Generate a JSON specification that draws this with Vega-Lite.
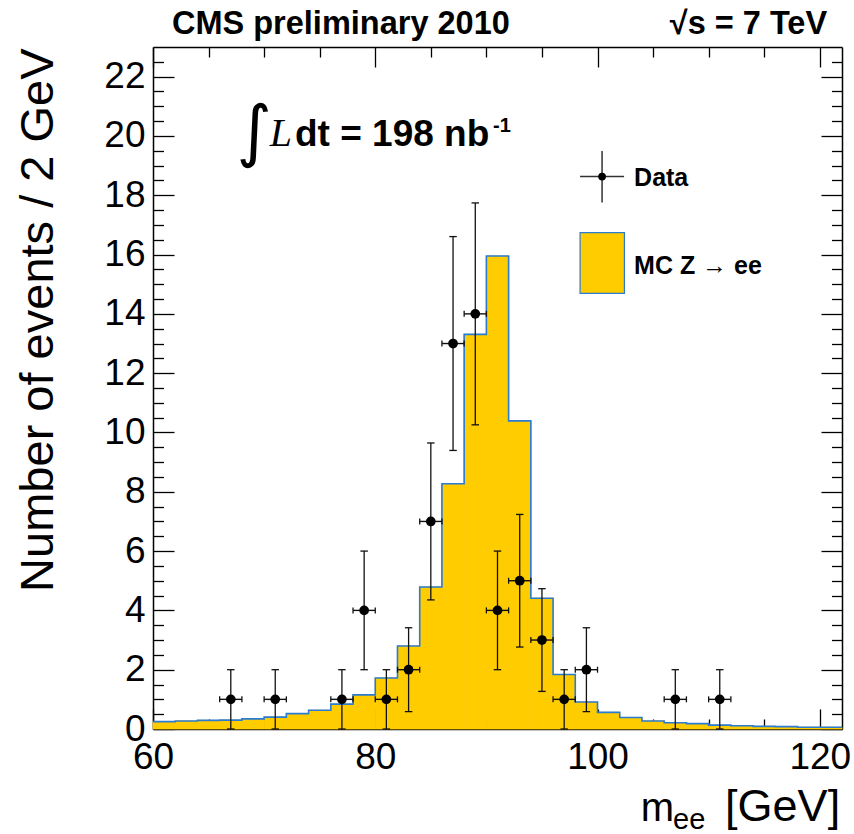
{
  "$schema": "https://vega.github.io/schema/vega-lite/v6.json",
  "width": 689,
  "height": 682,
  "autosize": "none",
  "padding": {"left": 153, "top": 47, "right": 12, "bottom": 105},
  "background": "white",
  "config": {
    "view": {"stroke": null},
    "axis": {"grid": false, "zindex": 1, "domain": false, "labels": false, "ticks": false, "tickColor": "black", "tickWidth": 1.3, "domainColor": "black", "domainWidth": 1.5, "labelFont": "Liberation Sans", "labelFontSize": 37, "labelColor": "black", "labelFlush": false, "labelOverlap": false, "labelBound": false}
  },
  "datasets": {
    "mc": [
      {"lo": 60, "hi": 62, "n": 0.25},
      {"lo": 62, "hi": 64, "n": 0.27},
      {"lo": 64, "hi": 66, "n": 0.29},
      {"lo": 66, "hi": 68, "n": 0.30},
      {"lo": 68, "hi": 70, "n": 0.34},
      {"lo": 70, "hi": 72, "n": 0.40},
      {"lo": 72, "hi": 74, "n": 0.52},
      {"lo": 74, "hi": 76, "n": 0.63},
      {"lo": 76, "hi": 78, "n": 0.84},
      {"lo": 78, "hi": 80, "n": 1.15},
      {"lo": 80, "hi": 82, "n": 1.72},
      {"lo": 82, "hi": 84, "n": 2.80},
      {"lo": 84, "hi": 86, "n": 4.79},
      {"lo": 86, "hi": 88, "n": 8.27},
      {"lo": 88, "hi": 90, "n": 13.31},
      {"lo": 90, "hi": 92, "n": 15.95},
      {"lo": 92, "hi": 94, "n": 10.39},
      {"lo": 94, "hi": 96, "n": 4.41},
      {"lo": 96, "hi": 98, "n": 1.84},
      {"lo": 98, "hi": 100, "n": 0.91},
      {"lo": 100, "hi": 102, "n": 0.56},
      {"lo": 102, "hi": 104, "n": 0.39},
      {"lo": 104, "hi": 106, "n": 0.27},
      {"lo": 106, "hi": 108, "n": 0.21},
      {"lo": 108, "hi": 110, "n": 0.18},
      {"lo": 110, "hi": 112, "n": 0.13},
      {"lo": 112, "hi": 114, "n": 0.11},
      {"lo": 114, "hi": 116, "n": 0.09},
      {"lo": 116, "hi": 118, "n": 0.08},
      {"lo": 118, "hi": 120, "n": 0.06},
      {"lo": 120, "hi": 122, "n": 0.06}
    ],
    "obs": [
      {"m": 67, "n": 1, "lo": 0, "hi": 2, "xlo": 66, "xhi": 68},
      {"m": 71, "n": 1, "lo": 0, "hi": 2, "xlo": 70, "xhi": 72},
      {"m": 77, "n": 1, "lo": 0, "hi": 2, "xlo": 76, "xhi": 78},
      {"m": 79, "n": 4, "lo": 2, "hi": 6, "xlo": 78, "xhi": 80},
      {"m": 81, "n": 1, "lo": 0, "hi": 2, "xlo": 80, "xhi": 82},
      {"m": 83, "n": 2, "lo": 0.586, "hi": 3.414, "xlo": 82, "xhi": 84},
      {"m": 85, "n": 7, "lo": 4.354, "hi": 9.646, "xlo": 84, "xhi": 86},
      {"m": 87, "n": 13, "lo": 9.394, "hi": 16.606, "xlo": 86, "xhi": 88},
      {"m": 89, "n": 14, "lo": 10.258, "hi": 17.742, "xlo": 88, "xhi": 90},
      {"m": 91, "n": 4, "lo": 2, "hi": 6, "xlo": 90, "xhi": 92},
      {"m": 93, "n": 5, "lo": 2.764, "hi": 7.236, "xlo": 92, "xhi": 94},
      {"m": 95, "n": 3, "lo": 1.268, "hi": 4.732, "xlo": 94, "xhi": 96},
      {"m": 97, "n": 1, "lo": 0, "hi": 2, "xlo": 96, "xhi": 98},
      {"m": 99, "n": 2, "lo": 0.586, "hi": 3.414, "xlo": 98, "xhi": 100},
      {"m": 107, "n": 1, "lo": 0, "hi": 2, "xlo": 106, "xhi": 108},
      {"m": 111, "n": 1, "lo": 0, "hi": 2, "xlo": 110, "xhi": 112}
    ]
  },
  "resolve": {"axis": {"x": "independent", "y": "independent"}},
  "layer": [
    {
      "data": {"name": "mc"},
      "mark": {"type": "rect", "fill": "#ffcc00", "stroke": "#ffcc00", "strokeWidth": 0.8},
      "encoding": {
        "x": {"field": "lo", "type": "quantitative", "scale": {"domain": [60, 122], "nice": false, "zero": false},
              "axis": {"orient": "bottom", "values": [60, 80, 100, 120], "labels": true, "ticks": false, "tickSize": 0, "labelPadding": 39, "labelBaseline": "alphabetic", "labelAlign": "center", "title": null}},
        "x2": {"field": "hi"},
        "y": {"field": "n", "type": "quantitative", "scale": {"domain": [0, 23], "nice": false, "zero": false},
              "axis": {"orient": "left", "values": [0, 2, 4, 6, 8, 10, 12, 14, 16, 18, 20, 22], "labels": true, "ticks": false, "tickSize": 0, "labelPadding": 8, "labelBaseline": "middle", "labelAlign": "right",
                       "title": "Number of events / 2 GeV", "titleFont": "Liberation Sans", "titleFontSize": 47, "titleFontWeight": "normal", "titleColor": "black", "titleAngle": 270, "titleAlign": "right", "titleBaseline": "alphabetic", "titleX": -101, "titleY": 1}},
        "y2": {"datum": 0}
      }
    },
    {
      "data": {"name": "mc"},
      "transform": [{"fold": ["lo", "hi"], "as": ["edge", "xe"]}],
      "mark": {"type": "line", "color": "#2a7bd2", "strokeWidth": 1.6},
      "encoding": {
        "x": {"field": "xe", "type": "quantitative", "axis": {"orient": "bottom", "values": [60, 80, 100, 120], "ticks": true, "tickSize": -20, "domain": true, "labels": false, "title": null}},
        "y": {"field": "n", "type": "quantitative", "axis": {"orient": "left", "values": [0, 2, 4, 6, 8, 10, 12, 14, 16, 18, 20, 22], "ticks": true, "tickSize": -21, "domain": true, "labels": false, "title": null}},
        "order": [{"field": "lo", "type": "quantitative"}, {"field": "edge", "type": "nominal", "sort": "descending"}]
      }
    },
    {
      "data": {"name": "obs"},
      "mark": {"type": "rule", "color": "#111111", "strokeWidth": 1.3},
      "encoding": {
        "x": {"field": "m", "type": "quantitative", "axis": {"orient": "bottom", "values": [65, 70, 75, 85, 90, 95, 105, 110, 115], "ticks": true, "tickSize": -10, "labels": false, "title": null}},
        "y": {"field": "lo", "type": "quantitative", "axis": {"orient": "left", "values": [0.5, 1, 1.5, 2.5, 3, 3.5, 4.5, 5, 5.5, 6.5, 7, 7.5, 8.5, 9, 9.5, 10.5, 11, 11.5, 12.5, 13, 13.5, 14.5, 15, 15.5, 16.5, 17, 17.5, 18.5, 19, 19.5, 20.5, 21, 21.5, 22.5], "ticks": true, "tickSize": -10.5, "labels": false, "title": null}},
        "y2": {"field": "hi"}
      }
    },
    {
      "data": {"name": "obs"},
      "mark": {"type": "rule", "color": "#111111", "strokeWidth": 1.4},
      "encoding": {
        "x": {"field": "xlo", "type": "quantitative", "axis": {"orient": "top", "values": [60, 80, 100, 120], "ticks": true, "tickSize": -20, "domain": true, "labels": false, "title": null}},
        "x2": {"field": "xhi"},
        "y": {"field": "n", "type": "quantitative", "axis": {"orient": "right", "values": [0, 2, 4, 6, 8, 10, 12, 14, 16, 18, 20, 22], "ticks": true, "tickSize": -21, "domain": true, "labels": false, "title": null}}
      }
    },
    {
      "data": {"name": "obs"},
      "mark": {"type": "point", "shape": "M-1,0L1,0", "size": 56, "filled": false, "stroke": "#111111", "strokeWidth": 1.3, "opacity": 1},
      "encoding": {
        "x": {"field": "m", "type": "quantitative", "axis": {"orient": "top", "values": [65, 70, 75, 85, 90, 95, 105, 110, 115], "ticks": true, "tickSize": -10, "labels": false, "title": null}},
        "y": {"field": "lo", "type": "quantitative", "axis": {"orient": "right", "values": [0.5, 1, 1.5, 2.5, 3, 3.5, 4.5, 5, 5.5, 6.5, 7, 7.5, 8.5, 9, 9.5, 10.5, 11, 11.5, 12.5, 13, 13.5, 14.5, 15, 15.5, 16.5, 17, 17.5, 18.5, 19, 19.5, 20.5, 21, 21.5, 22.5], "ticks": true, "tickSize": -10.5, "labels": false, "title": null}}
      }
    },
    {
      "data": {"name": "obs"},
      "mark": {"type": "point", "shape": "M-1,0L1,0", "size": 56, "filled": false, "stroke": "#111111", "strokeWidth": 1.3, "opacity": 1},
      "encoding": {
        "x": {"field": "m", "type": "quantitative", "axis": null},
        "y": {"field": "hi", "type": "quantitative", "axis": null}
      }
    },
    {
      "data": {"name": "obs"},
      "mark": {"type": "point", "shape": "M0,-1L0,1", "size": 36, "filled": false, "stroke": "#111111", "strokeWidth": 1.3, "opacity": 1},
      "encoding": {
        "x": {"field": "xlo", "type": "quantitative", "axis": null},
        "y": {"field": "n", "type": "quantitative", "axis": null}
      }
    },
    {
      "data": {"name": "obs"},
      "mark": {"type": "point", "shape": "M0,-1L0,1", "size": 36, "filled": false, "stroke": "#111111", "strokeWidth": 1.3, "opacity": 1},
      "encoding": {
        "x": {"field": "xhi", "type": "quantitative", "axis": null},
        "y": {"field": "n", "type": "quantitative", "axis": null}
      }
    },
    {
      "data": {"name": "obs"},
      "mark": {"type": "point", "shape": "circle", "size": 95, "filled": true, "color": "black", "opacity": 1},
      "encoding": {
        "x": {"field": "m", "type": "quantitative", "axis": null},
        "y": {"field": "n", "type": "quantitative", "axis": null}
      }
    },
    {
      "data": {"values": [{}]},
      "mark": {"type": "rule", "color": "#333333", "strokeWidth": 1.5},
      "encoding": {
        "x": {"datum": 98.43, "type": "quantitative", "axis": null},
        "x2": {"datum": 102.39},
        "y": {"datum": 18.63, "type": "quantitative", "axis": null}
      }
    },
    {
      "data": {"values": [{}]},
      "mark": {"type": "rule", "color": "#333333", "strokeWidth": 1.5},
      "encoding": {
        "x": {"datum": 100.41, "type": "quantitative", "axis": null},
        "y": {"datum": 17.76, "type": "quantitative", "axis": null},
        "y2": {"datum": 19.49}
      }
    },
    {
      "data": {"values": [{}]},
      "mark": {"type": "point", "shape": "circle", "size": 60, "filled": true, "color": "black", "opacity": 1},
      "encoding": {
        "x": {"datum": 100.41, "type": "quantitative", "axis": null},
        "y": {"datum": 18.63, "type": "quantitative", "axis": null}
      }
    },
    {
      "data": {"values": [{}]},
      "mark": {"type": "text", "text": "Data", "align": "left", "baseline": "alphabetic", "font": "Liberation Sans", "fontSize": 25, "fontWeight": "bold", "color": "black"},
      "encoding": {
        "x": {"datum": 103.29, "type": "quantitative", "axis": null},
        "y": {"datum": 18.31, "type": "quantitative", "axis": null}
      }
    },
    {
      "data": {"values": [{}]},
      "mark": {"type": "rect", "fill": "#ffcc00", "stroke": "#2a7bd2", "strokeWidth": 1.2},
      "encoding": {
        "x": {"datum": 98.43, "type": "quantitative", "axis": null},
        "x2": {"datum": 102.42},
        "y": {"datum": 14.69, "type": "quantitative", "axis": null},
        "y2": {"datum": 16.74}
      }
    },
    {
      "data": {"values": [{}]},
      "mark": {"type": "text", "text": "MC Z → ee", "align": "left", "baseline": "alphabetic", "font": "Liberation Sans", "fontSize": 25, "fontWeight": "bold", "color": "black"},
      "encoding": {
        "x": {"datum": 103.29, "type": "quantitative", "axis": null},
        "y": {"datum": 15.35, "type": "quantitative", "axis": null}
      }
    },
    {
      "data": {"values": [{}]},
      "mark": {"type": "text", "text": "∫", "align": "center", "baseline": "middle", "font": "DejaVu Sans", "fontSize": 68, "color": "black"},
      "encoding": {
        "x": {"datum": 69.1, "type": "quantitative", "axis": null},
        "y": {"datum": 20.05, "type": "quantitative", "axis": null}
      }
    },
    {
      "data": {"values": [{}]},
      "mark": {"type": "text", "text": "L", "align": "left", "baseline": "alphabetic", "font": "Liberation Serif", "fontStyle": "italic", "fontSize": 40, "color": "black"},
      "encoding": {
        "x": {"datum": 70.5, "type": "quantitative", "axis": null},
        "y": {"datum": 19.67, "type": "quantitative", "axis": null}
      }
    },
    {
      "data": {"values": [{}]},
      "mark": {"type": "text", "text": "dt = 198 nb", "align": "left", "baseline": "alphabetic", "font": "Liberation Sans", "fontSize": 37, "fontWeight": "bold", "color": "black"},
      "encoding": {
        "x": {"datum": 72.78, "type": "quantitative", "axis": null},
        "y": {"datum": 19.67, "type": "quantitative", "axis": null}
      }
    },
    {
      "data": {"values": [{}]},
      "mark": {"type": "text", "text": "-1", "align": "left", "baseline": "alphabetic", "font": "Liberation Sans", "fontSize": 20, "fontWeight": "bold", "color": "black"},
      "encoding": {
        "x": {"datum": 90.6, "type": "quantitative", "axis": null},
        "y": {"datum": 20.15, "type": "quantitative", "axis": null}
      }
    },
    {
      "data": {"values": [{}]},
      "mark": {"type": "text", "text": "CMS preliminary 2010", "align": "left", "baseline": "alphabetic", "dy": -13.5, "font": "Liberation Sans", "fontSize": 32.5, "fontWeight": "bold", "color": "black"},
      "encoding": {
        "x": {"datum": 61.71, "type": "quantitative", "axis": null},
        "y": {"datum": 23, "type": "quantitative", "axis": null}
      }
    },
    {
      "data": {"values": [{}]},
      "mark": {"type": "text", "text": "√s = 7 TeV", "align": "right", "baseline": "alphabetic", "dy": -13.5, "font": "Liberation Sans", "fontSize": 32.5, "fontWeight": "bold", "color": "black"},
      "encoding": {
        "x": {"datum": 120.66, "type": "quantitative", "axis": null},
        "y": {"datum": 23, "type": "quantitative", "axis": null}
      }
    },
    {
      "data": {"values": [{}]},
      "mark": {"type": "text", "text": "m", "align": "left", "baseline": "alphabetic", "font": "Liberation Sans", "fontSize": 40, "color": "black"},
      "encoding": {
        "x": {"datum": 103.9, "type": "quantitative", "axis": null},
        "y": {"datum": -3.093, "type": "quantitative", "axis": null}
      }
    },
    {
      "data": {"values": [{}]},
      "mark": {"type": "text", "text": "ee", "align": "left", "baseline": "alphabetic", "font": "Liberation Sans", "fontSize": 29, "color": "black"},
      "encoding": {
        "x": {"datum": 106.8, "type": "quantitative", "axis": null},
        "y": {"datum": -3.37, "type": "quantitative", "axis": null}
      }
    },
    {
      "data": {"values": [{}]},
      "mark": {"type": "text", "text": "[GeV]", "align": "left", "baseline": "alphabetic", "font": "Liberation Sans", "fontSize": 45, "color": "black"},
      "encoding": {
        "x": {"datum": 111.48, "type": "quantitative", "axis": null},
        "y": {"datum": -3.093, "type": "quantitative", "axis": null}
      }
    }
  ]
}
